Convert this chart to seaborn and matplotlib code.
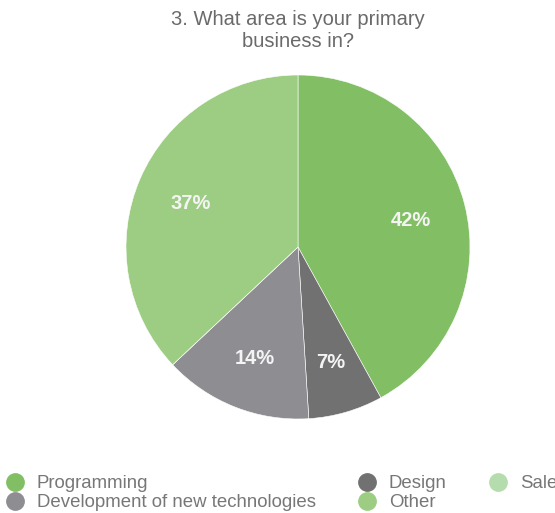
import matplotlib
matplotlib.use("Agg")
import matplotlib.pyplot as plt
from matplotlib.lines import Line2D
import seaborn as sns

sns.set_theme(style="white")
plt.rcParams["font.family"] = ["Liberation Sans", "DejaVu Sans"]

title = "3. What area is your primary\nbusiness in?"
categories = ["Programming", "Design", "Development of new technologies", "Sales", "Other"]
shares = [42, 7, 14, 0, 37]
colors = ["#82bf64", "#717171", "#8e8d92", "#b5dcac", "#9dcd82"]
legend_order = ["Programming", "Development of new technologies", "Design", "Other", "Sales"]

W, H = 555, 513
fig = plt.figure(figsize=(W / 100, H / 100), dpi=100)
ax = fig.add_axes([0, 0, 1, 1])

wedges, texts, autotexts = ax.pie(
    shares,
    colors=colors,
    startangle=90,
    counterclock=False,
    center=(298, H - 247),
    radius=172,
    autopct=lambda p: f"{p:.0f}%" if p >= 1 else "",
    pctdistance=0.68,
    wedgeprops=dict(edgecolor="#ffffff", linewidth=0.4),
    textprops=dict(color="#f4f4f4", fontsize=14.5, fontweight="bold"),
    frame=True,
)
# nudge the percentage labels slightly below their default anchor
for t in autotexts:
    x, y = t.get_position()
    t.set_position((x, y - 3))

ax.set_xlim(0, W)
ax.set_ylim(0, H)
ax.set_aspect("auto")
ax.axis("off")

fig.text(298 / W, 1 - 31 / H, title, ha="center", va="center",
         fontsize=14.5, color="#6a6a6a", linespacing=1.2)

color_of = dict(zip(categories, colors))
handles = [Line2D([], [], marker="o", linestyle="none", markersize=12.5,
                  markerfacecolor=color_of[c], markeredgecolor=color_of[c])
           for c in legend_order]
fig.legend(handles, legend_order, loc="upper left",
           bbox_to_anchor=(5.7 / W, 1 - 475 / H), ncol=3, frameon=False,
           fontsize=13.4, labelcolor="#777777", handlelength=1.0,
           handletextpad=0.68, columnspacing=2.24, labelspacing=0.12,
           borderaxespad=0, borderpad=0)

fig.savefig("out.png", dpi=100)
